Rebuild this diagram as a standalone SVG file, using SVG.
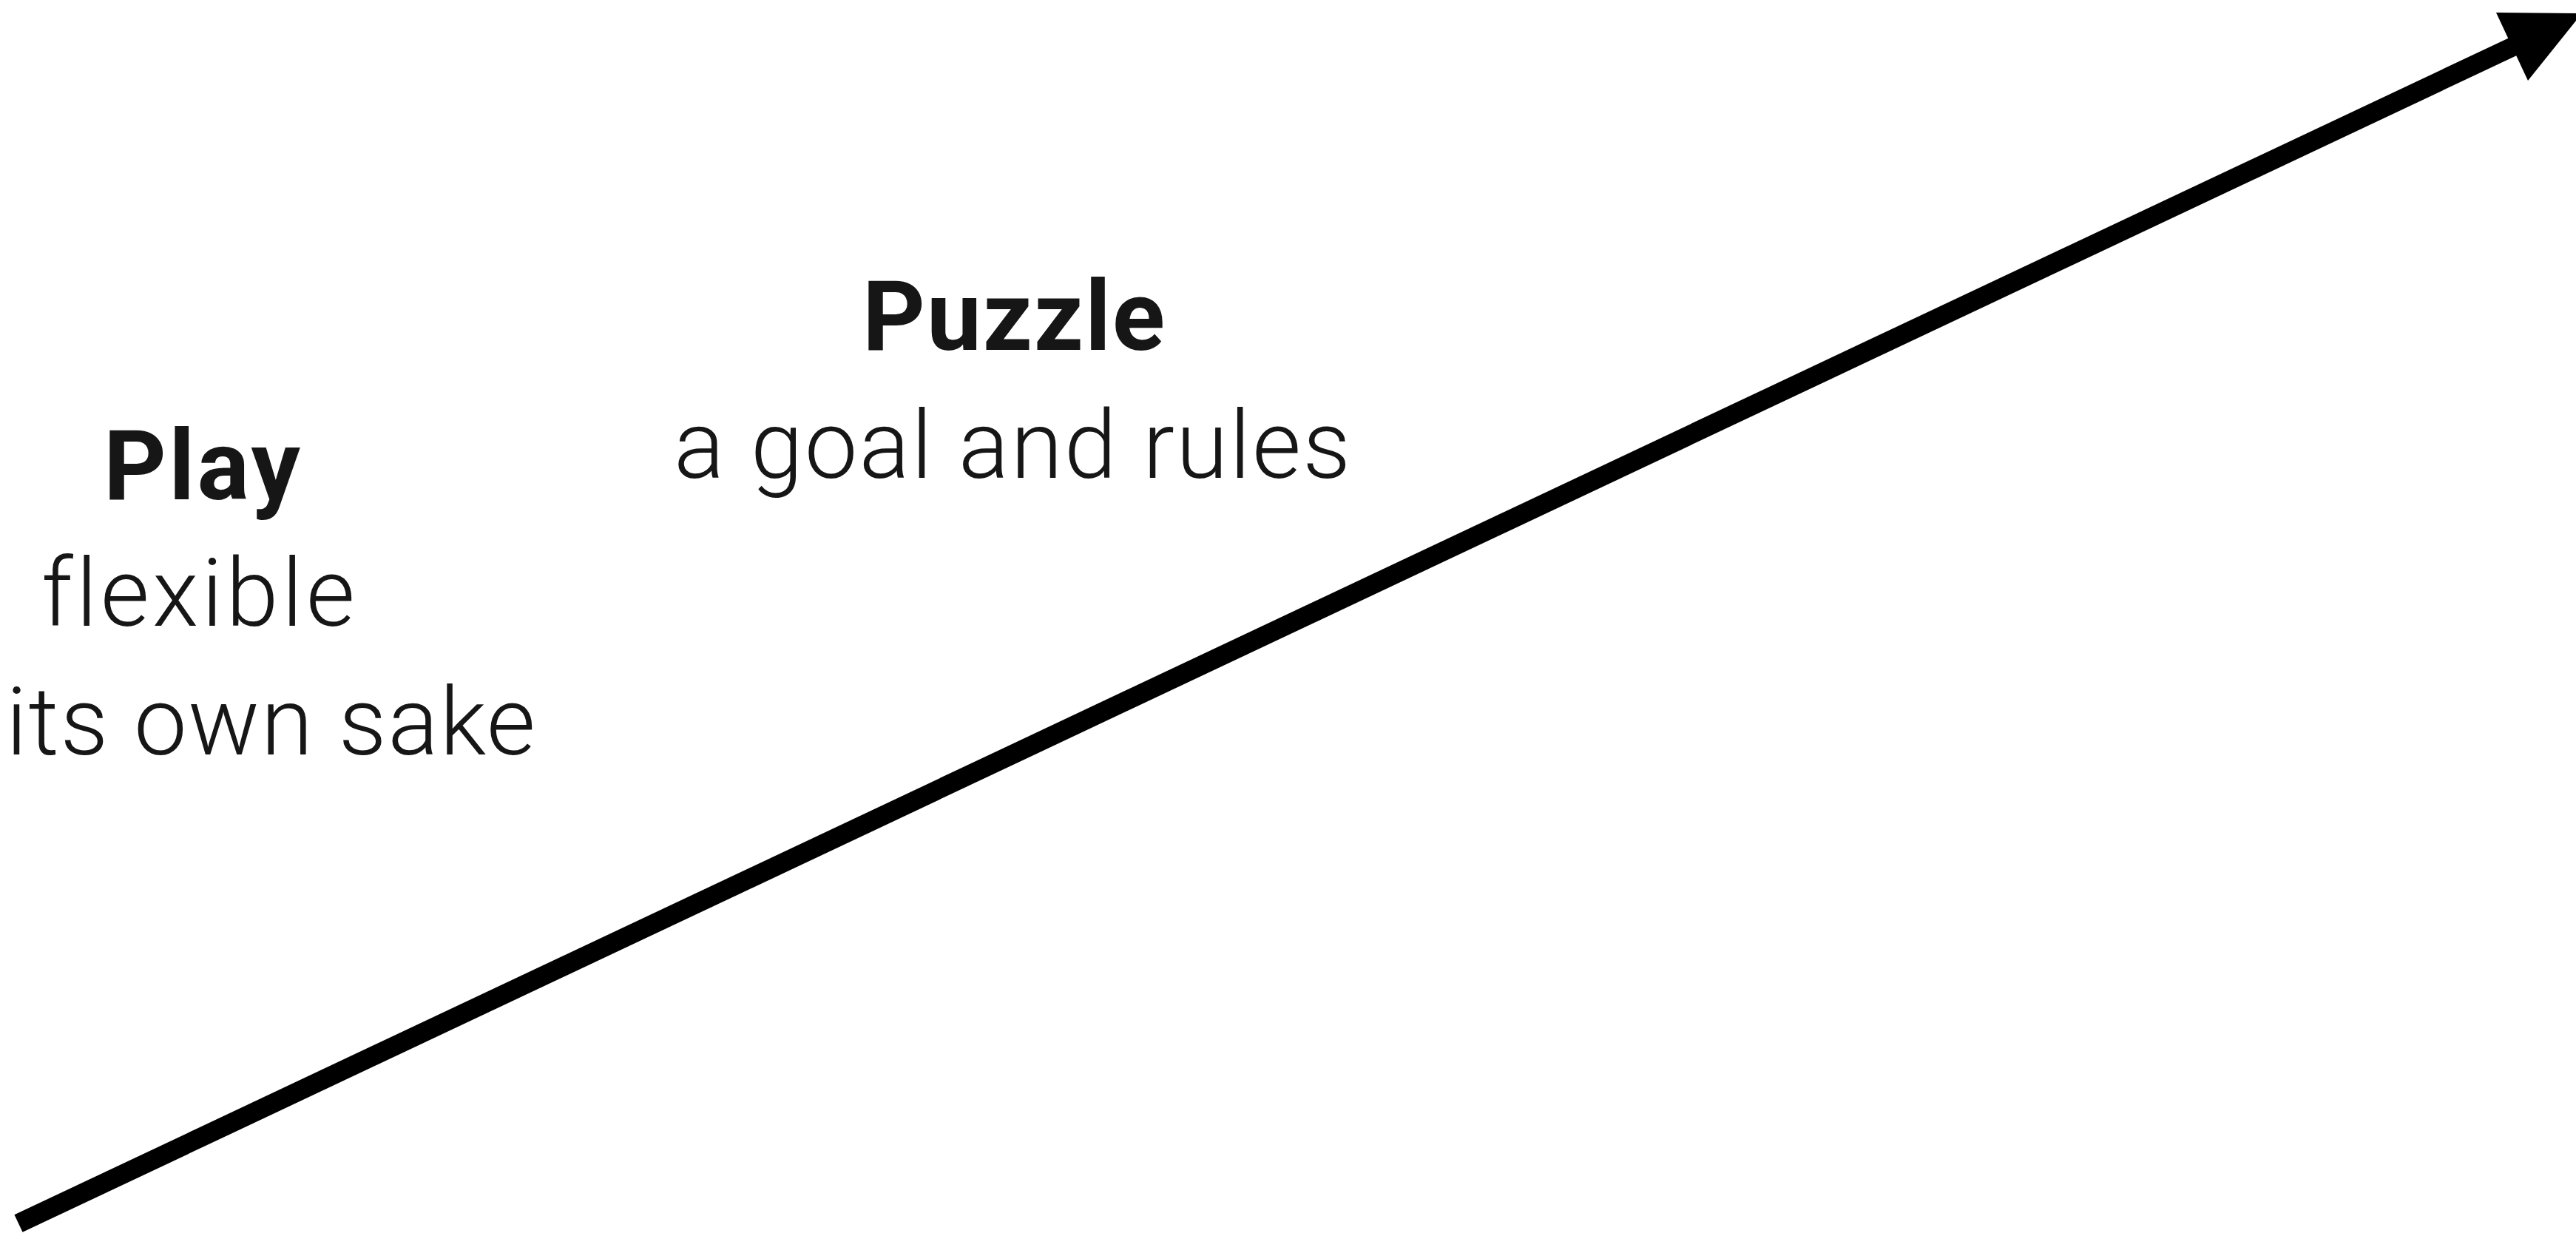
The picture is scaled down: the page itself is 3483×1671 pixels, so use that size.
<svg xmlns="http://www.w3.org/2000/svg" width="3483" height="1671" viewBox="0 0 3483 1671">
<style>
.t{font-family:Roboto,"Liberation Sans",sans-serif;fill:#161616;font-variant-ligatures:none}
.b{font-weight:700;font-size:132px}
.l{font-weight:300;font-size:128px}
</style>
<rect width="3483" height="1671" fill="#ffffff"/>
<g id="connectors">
<line x1="25" y1="1654" x2="3400" y2="62" stroke="#000" stroke-width="26"/>
<polygon points="3375,17 3418,109 3491,18" fill="#000"/>
</g>
<g id="play">
<text class="t b" x="140" y="675" textLength="266" lengthAdjust="spacing">Play</text>
<text class="t l" x="56" y="846" textLength="424" lengthAdjust="spacing">flexible</text>
<text class="t l" x="8" y="1020" textLength="716" lengthAdjust="spacing">its own sake</text>
</g>
<g id="puzzle">
<text class="t b" x="1166" y="473" textLength="409" lengthAdjust="spacing">Puzzle</text>
<text class="t l" x="911" y="646" textLength="915" lengthAdjust="spacing">a goal and rules</text>
</g>
</svg>
